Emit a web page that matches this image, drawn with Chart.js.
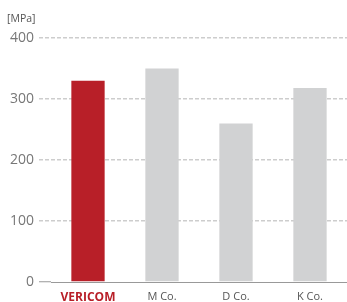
<!DOCTYPE html>
<html><head><meta charset="utf-8">
<script src="https://cdn.jsdelivr.net/npm/chart.js@4/dist/chart.umd.min.js"></script>
<style>html,body{margin:0;padding:0;background:#fff}#wrap{width:347px;height:302px;position:relative}</style>
</head><body><div id="wrap"><canvas id="c"></canvas></div>
<script>
const categories = ['VERICOM', 'M Co.', 'D Co.', 'K Co.'];
const strengthMPa = [330, 350, 260, 318];
const barColors = ['#b81f28', '#d1d2d3', '#d1d2d3', '#d1d2d3'];
const yTicks = [0, 100, 200, 300, 400];
const unitLabel = '[MPa]';

const unitPlugin = {
  id: 'unit',
  afterDraw(chart) {
    const ctx = chart.ctx;
    ctx.save();
    ctx.font = '10.5px "Open Sans"';
    ctx.fillStyle = '#555';
    ctx.textBaseline = 'alphabetic';
    ctx.fillText(unitLabel, 7, 22);
    ctx.restore();
  }
};

new Chart(document.getElementById('c'), {
  type: 'bar',
  data: {
    labels: categories,
    datasets: [{ data: strengthMPa, backgroundColor: barColors, borderWidth: 0,
      categoryPercentage: 1, barPercentage: 0.45 }]
  },
  options: {
    responsive: true, maintainAspectRatio: false, animation: false,
    layout: { padding: { top: 38, left: 0, right: 0, bottom: 0 } },
    plugins: { legend: { display: false }, tooltip: { enabled: false } },
    scales: {
      x: {
        grid: { display: false, drawTicks: false },
        border: { display: true, color: '#999', width: 1 },
        ticks: {
          padding: 8,
          font: (c) => ({ family: 'Open Sans', size: c.index === 0 ? 12 : 11, weight: c.index === 0 ? 'bold' : 'normal' }),
          color: (c) => c.index === 0 ? '#b81f28' : '#555'
        },
        afterFit: (s) => { s.height = 20; }
      },
      y: {
        min: 0, max: 400,
        afterBuildTicks: (s) => { s.ticks = yTicks.map(v => ({ value: v })); },
        grid: {
          color: (c) => c.tick && c.tick.value === 0 ? 'rgba(0,0,0,0)' : '#cdcdcd',
          lineWidth: 1.5,
          tickLength: 12,
          tickColor: (c) => c.tick && c.tick.value === 0 ? '#999' : '#cdcdcd',
          tickWidth: (c) => c.tick && c.tick.value === 0 ? 1 : 1.5,
          tickBorderDash: (c) => c.tick && c.tick.value === 0 ? [] : [4, 2]
        },
        border: { display: false, dash: [4, 2] },
        ticks: { padding: 5, color: '#777', font: { family: 'Open Sans', size: 14 } },
        afterFit: (s) => { s.width = 51; }
      }
    }
  },
  plugins: [unitPlugin]
});
</script></body></html>
